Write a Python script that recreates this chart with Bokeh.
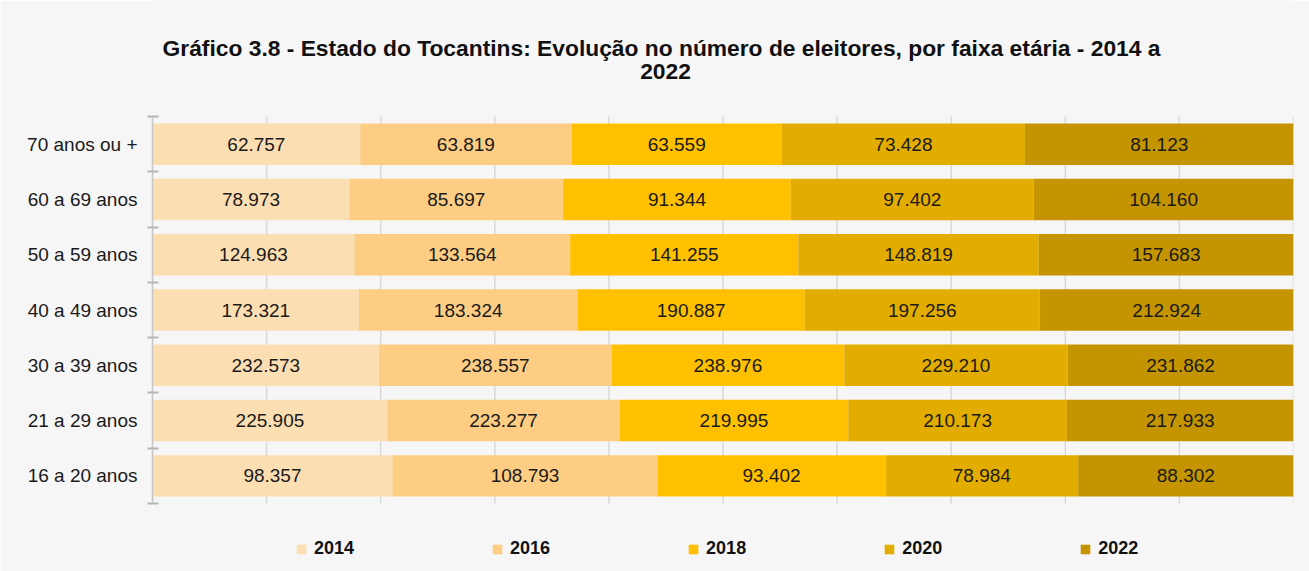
from bokeh.plotting import figure
from bokeh.models import FixedTicker, Label, Legend, LegendItem, ColumnDataSource
from bokeh.core.properties import value
from bokeh.embed import file_html
from bokeh.resources import INLINE

# categories from bottom to top
categories = ["16 a 20 anos", "21 a 29 anos", "30 a 39 anos", "40 a 49 anos",
              "50 a 59 anos", "60 a 69 anos", "70 anos ou +"]
years = ["2014", "2016", "2018", "2020", "2022"]
v2014 = [98357, 225905, 232573, 173321, 124963, 78973, 62757]
v2016 = [108793, 223277, 238557, 183324, 133564, 85697, 63819]
v2018 = [93402, 219995, 238976, 190887, 141255, 91344, 63559]
v2020 = [78984, 210173, 229210, 197256, 148819, 97402, 73428]
v2022 = [88302, 217933, 231862, 212924, 157683, 104160, 81123]
series = [v2014, v2016, v2018, v2020, v2022]
colors = ["#FCDEB3", "#FCCD82", "#FFC000", "#E3AD00", "#C49500"]
grid_ticks = [i / 10 for i in range(11)]   # 0%, 10%, ... 100%
title_lines = ["Gráfico 3.8 - Estado do Tocantins: Evolução no número de eleitores, "
               "por faixa etária - 2014 a", "2022"]

FONT = "Liberation Sans"
BG = "#f6f6f6"

W, H = 1309, 571
LEFT = 152
BARS_TOP, BARS_BOTTOM = 116, 503
n = len(categories)
unit = (BARS_BOTTOM - BARS_TOP) / n
# the frame spans the whole height; title and legend sit inside it
y_start = 0.5 - (H - BARS_BOTTOM) / unit
y_end = n + 0.5 + BARS_TOP / unit

p = figure(width=W, height=H, output_backend="svg", toolbar_location=None,
           x_range=(0, 1), y_range=(y_start, y_end), title=None,
           min_border_left=LEFT, min_border_right=16, min_border_top=0,
           min_border_bottom=0)
p.border_fill_color = BG
p.background_fill_color = BG
p.outline_line_color = None

ys = list(range(1, n + 1))
totals = [sum(s[i] for s in series) for i in range(n)]

# vertical grid lines spanning the category bands
p.segment(x0=grid_ticks, x1=grid_ticks, y0=[0.5] * len(grid_ticks),
          y1=[n + 0.5] * len(grid_ticks), line_color="#d9d9d9", line_width=1.5)

items = []
lefts = [0.0] * n
for yr, vals, col in zip(years, series, colors):
    widths = [v / t for v, t in zip(vals, totals)]
    rights = [l + w for l, w in zip(lefts, widths)]
    src = ColumnDataSource(dict(
        y=ys, left=lefts, right=rights,
        xc=[(l + r) / 2 for l, r in zip(lefts, rights)],
        lab=[f"{v:,}".replace(",", ".") for v in vals]))
    r = p.hbar(y="y", left="left", right="right", height=0.75, source=src,
               fill_color=col, line_color=None)
    p.text(x="xc", y="y", text="lab", source=src, text_align="center",
           text_baseline="middle", text_font_size="19px", text_color="#1a1a1a",
           text_font=value(FONT))
    items.append(LegendItem(label=yr, renderers=[r]))
    lefts = rights

p.xgrid.grid_line_color = None
p.ygrid.grid_line_color = None
p.xaxis.visible = False

# y axis
ax = p.yaxis[0]
ax.bounds = (0.5, n + 0.5)
ax.ticker = FixedTicker(ticks=ys, minor_ticks=[y - 0.5 for y in ys] + [n + 0.5])
ax.major_label_overrides = {y: c for y, c in zip(ys, categories)}
ax.major_tick_line_color = None
ax.major_tick_in = 0
ax.major_tick_out = 0
ax.minor_tick_in = 6
ax.minor_tick_out = 5
ax.minor_tick_line_color = "#b5b5b5"
ax.minor_tick_line_width = 2
ax.axis_line_color = "#c8c8c8"
ax.axis_line_width = 1.5
ax.major_label_standoff = 10
ax.major_label_text_font = FONT
ax.major_label_text_font_size = "19px"
ax.major_label_text_color = "#1a1a1a"

# title (two centred lines)
for txt, cx, cy in zip(title_lines, [661, 665], [47, 71]):
    p.add_layout(Label(text=txt, x=cx - LEFT, y=H - cy, x_units="screen",
                       y_units="screen", text_align="center", text_baseline="middle",
                       text_font=FONT, text_font_size="22.8px",
                       text_font_style="bold", text_color="#111111"))

legend = Legend(items=items, orientation="horizontal", location=(143, 12),
                glyph_width=12, glyph_height=12, label_standoff=7, spacing=137,
                label_text_font=FONT, label_text_font_size="18px",
                label_text_font_style="bold", label_text_color="#111111",
                padding=0, margin=0, border_line_color=None,
                background_fill_color=None)
p.add_layout(legend, "center")

open("out.html", "w").write(file_html(p, INLINE))
